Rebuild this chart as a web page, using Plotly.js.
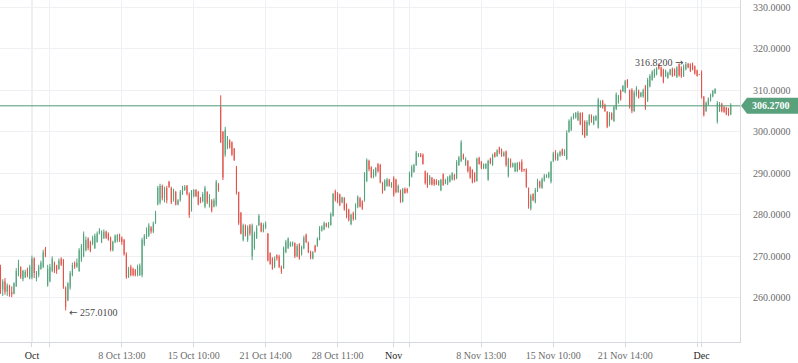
<!DOCTYPE html>
<html>
<head>
<meta charset="utf-8">
<script src="https://cdn.plot.ly/plotly-3.0.1.min.js"></script>
<style>html,body{margin:0;padding:0;background:#fff;}#chart{width:798px;height:363px;}</style>
</head>
<body>
<div id="chart"></div>
<script>
// ---- data (hourly bars, index-based x axis) ----
const openV = [267.5,262,264,261.5,263,261.5,261,262.8,265.5,267.5,264.5,265,267,264.8,265,269.5,264.5,265.5,267,267.5,
272,263,264,266.5,268.5,267.8,267,269.5,269.2,262.5,259.5,262.5,265.5,268.5,267.5,266.5,269,270,271.5,274.3,
273.5,273,272,273.5,275.5,273.5,274.5,276,275.5,274.5,271.5,273.5,273.8,275.3,274.5,274,270.5,265,267.5,267,
266.8,265.5,265.5,265.5,273,274.5,275,277,276,278,282.5,283,287,284,286.5,288,286.5,283.5,285.5,282.5,
283.5,285,286,287,285,281,284.5,286,285.5,284,283.3,282,285.5,282,283.5,282,282.5,287.5,306,300,
294.5,296,298,297.5,296,291.5,285.5,280.5,274,277.5,274,277.5,270,272,274.5,277.5,278,276,277,275.5,
270.8,269.6,267.5,270.3,270,267.5,267.2,271,272,272.5,272.6,273.2,270,273,270.5,272,275.2,273.3,271.2,269.5,
272.6,272.6,274,276.2,276.5,278,277,277.6,279.8,285.8,285.3,285,283,284,282.5,281.3,277.8,280.5,279,282,
284,283.3,283.5,288.2,293,291.5,289,289.5,292.2,292,287.8,286,287,288.5,286.7,289,288.5,285.5,286,283.2,
286.3,286.2,287,289.2,290.3,292,294.2,294.6,294.5,290.5,290,287.5,289,288.5,288.3,287.2,286,289.8,287.5,287.5,
288,288.5,289.7,288.8,292,293,294.5,292,293,291.5,290.8,290,288.2,293.7,292.8,291.2,291.2,288.5,293.6,292,
295,294.2,296.3,295.8,294.2,295.3,289.3,293.4,291.6,290.5,290.5,292.6,292.8,291,291,286.5,281.5,285,283,285.8,
288,286.5,288.3,289,289,288,293,295.3,293.2,294.3,295.8,294.3,293.5,300,300.5,303.2,303.4,302.8,304.5,304.5,
302.5,299.2,301.8,304,301.8,302.8,301,306,307.5,306.5,304.8,301.5,304.5,302.6,305.5,307,310,309.8,309.5,312.5,
310,310.2,305,308.8,309.8,308.5,308.5,311,307.5,311,312.5,313.2,313.8,316.2,315.5,315,313.4,313,313.8,315.2,
315,313.2,316.3,315.5,313.5,315,316.4,316.3,316.5,315.8,314.8,313.8,314.5,308.5,305,306.5,307.5,308.5,309.3,302.5,
305,306.8,306,305.8,305.5,304.2];
const highV = [268,264.5,264.8,263.5,263.2,262.8,263.8,267.2,269.2,267.6,266.8,266.8,267.3,268,270.2,269.8,266.5,268,269,271.6,
272.3,268,268.2,270,268.8,268,269.5,269.8,269.4,262.8,263.8,266.5,268.5,268.8,269.5,272,273,276,274.8,274.6,
273.8,275,275.5,276,276.8,276.3,276.5,276.2,275.8,274.8,273.8,275.3,275.4,275.5,274.8,274.2,271,267.5,268,267.3,
267,268,268.3,274.5,275.4,277,278,277.3,278.4,281,287,287.5,287.3,286.8,287,288.2,286.8,286.3,285.8,283.8,
286,287,287.2,287.2,285.4,286,286.2,286.2,285.8,284.3,285.5,287,285.7,285,283.8,284,288.4,287.7,308.8,300.2,
301.2,299,298.2,297.7,296.1,291.8,285.6,280.7,277.9,277.7,277.5,277.8,277.9,276,277.5,280.2,278.2,278,278.4,275.6,
271,269.8,270,270.5,270.4,267.8,272.4,274,274.6,273.6,273.6,273.4,273,273.2,272.6,275,275.5,273.6,271.4,271.3,
272.8,274.6,277.3,277.5,278.4,278.1,278.3,280.6,285.3,286.1,285.5,285.1,284.4,284.3,282.8,281.5,280.3,280.8,282.8,284.7,
284.3,283.5,290.3,293.6,293.3,291.7,291,291.5,292.5,292.3,288,288.6,288.9,288.7,287.9,289.3,288.7,287.3,286.1,286.5,
286.6,286.5,290.4,292,292.3,295.4,294.9,294.9,294.8,290.7,290.2,289.6,289.1,288.7,288.6,288.4,288.7,290,288.7,289.3,
289.7,290.3,289.9,293.2,294.2,298,294.8,293.9,293.2,291.7,291,290.3,293.8,294,293,292.4,292.4,293.3,293.8,294.7,
295.1,295.8,296.4,296,295.3,295.5,293.8,293.6,292.6,292.6,292.7,292.8,293.4,291.1,291.2,286.6,285,285.2,286.5,288.7,
288.3,289,289.9,289.8,290.4,293,295.2,295.6,295,295.5,296,295.8,300.4,303,303.7,304.5,304.8,305,304.7,304.7,
302.8,302.8,304.3,304.2,303.9,304,308.2,307.6,307.7,306.8,305,304.8,304.7,306.3,309.5,308.9,310.2,311.3,312.5,312.7,
310.2,310.5,310,311,310.2,309.6,310.4,311.3,313,313.9,314.8,315.2,315.6,316.5,315.7,315.2,315,314.5,315.2,315.5,
315.3,315.8,316.5,315.8,316.2,316.82,316.6,316.5,316.7,316,315,313.9,314.8,308.6,307.3,308.3,309.2,310.1,310.5,307.4,
307.2,307,306.2,306,305.8,306.9];
const lowV = [261,260.5,260.8,260.5,260.3,260.2,260.9,262.7,265.2,264.6,264,264.8,265,264.5,264.5,264.8,264,265,266.8,267.2,
269.8,262.7,263.8,266.2,266,265.8,266.8,267.7,262.2,257.01,259.2,262,265.2,267,267.3,266.3,268.7,269.8,271.2,271.5,
271,272.7,271.8,273.3,275.3,273.2,274.2,274.2,273.8,271.2,271.2,273.2,273.4,273.5,272.8,270.2,264.6,264.8,265.2,265.2,
265.2,265.2,265.3,265,272.5,274.2,274.7,275.5,275.6,277.8,282.3,282.5,283.5,283,282.8,286.5,282.6,283.2,282.3,282.3,
283.2,284.8,285.8,284.7,279.3,280.8,284.2,284.3,282.3,282.8,283,281.6,282.6,281.8,280.6,281.8,282,285.6,297.3,288.4,
294,295.8,296,294.2,293,284.9,277.6,275.3,273.6,274.8,273.5,275,269.1,271.6,274.2,277.3,275.8,275.8,276.6,268.8,
268,266.8,267.2,269,267.2,265.8,267,270.8,271.8,272.3,272.4,269.6,269.8,269.2,270.2,271.7,273.2,270.8,269.3,269.3,
270.9,272.3,273.9,276,276.3,277,276.8,277.4,279.6,283.2,282.8,282.1,282.8,281,279.2,278.4,277.5,278.6,278.8,281.6,
281.8,281.2,283.2,287.9,290.5,288.8,288.8,289.2,290.2,287.6,285.1,285.8,286.8,286.8,286.5,284.4,285.2,285.3,282.9,283,
285.1,285.2,286.8,289,290.2,291.8,293.9,293.9,292.1,287.3,286.5,287.2,287.1,287,287.2,287,285.7,287,287.4,287.2,
287.8,288.3,288.3,288.6,291.8,292.7,293.3,291.8,290.2,288.7,287.6,287.8,288,292.1,291,291,291,288.2,292.2,291.8,
293.8,294,294.6,294,294,291.6,289,291.4,291.4,290.3,290.3,290.8,290.3,290.4,286.5,281.5,281.1,283.3,282.8,285.5,
286.4,286.3,288,288.9,288.8,287.6,292.7,293.1,293,294,294.2,294.2,293.2,299.8,300.2,303,303.2,302.6,301.6,299.2,
298.5,299,301.5,302.2,301.6,302.6,300.8,305.8,305.6,304.8,300.9,301.3,302.8,302.4,305.2,306.8,307.5,309.6,309.3,310.6,
305.6,304.5,304.8,308.5,308,308.3,308.2,305.3,307.2,310.7,312.3,313,313.6,315,313.2,311.7,313.2,312.8,313.6,313.2,
313.4,313,313.3,313,313.2,314.8,315.3,314.4,314.8,313.8,313.3,313.7,308,303.7,304.8,306.3,307.3,308.3,309.1,302,
304.8,304.7,304.6,304,303.8,304];
const closeV = [262,264,261.5,263,261,260.8,263.5,266.5,268.5,265,266.5,266.3,265.5,267.5,269.5,266,266,267.5,268.5,271,
270,267,267.5,269.5,266.5,266.5,269,268,262.5,257.8,263.5,266,268,267.5,268.5,271.5,272.5,275.5,274,272,
271.3,274.5,275,275.5,276.3,275.8,276,274.5,274,271.5,273.5,275,275.2,274,273.5,270.5,265,267,265.5,265.5,
265.5,267.5,267.8,274,275,276.5,277.5,276,278,280.5,286.5,287,284,286.5,283.5,286.8,283,286,282.5,283.5,
285.5,286.5,286.8,285,280,285.5,286,284.5,282.5,283,285,286.5,283,284.5,281,283.5,288,286,297.5,289,
300.5,298.5,296.2,294.5,293.2,285.2,278,275.5,277.5,275,277,275.5,277.5,275.5,277,279.8,276,277.6,278,269,
268.2,267,269.5,269.5,267.5,266.3,272,273.5,274.3,273.3,273.4,270,272.5,269.5,272.3,274.5,273.5,271,269.5,271,
271.2,274.2,277,277.2,278,277.2,278,280.2,285,283.6,283,282.4,284.2,281.3,279.5,278.8,280,279,282.5,284.3,
282,281.5,290,293.3,291,289,290.5,291.3,290.5,287.8,285.5,288.3,288.5,287,287.7,284.8,285.5,287,283.2,286.2,
285.3,285.6,290,291.5,292,295,294.7,294,292.3,287.6,286.8,289.3,287.3,287.3,287.4,288.2,288.4,287.2,288.5,289,
289.4,290,288.5,292.8,293.8,297.5,293.5,293.5,290.5,289,287.8,288,293.5,292.3,291.3,292.2,292.3,293,292.5,294.4,
294,295.5,295,294.2,295,292,293.5,291.6,292.4,292.4,292.5,291,290.5,290.8,286.8,282,284.5,283.6,286,288.2,
286.8,288.6,289.5,289.6,290.2,292.7,294.8,293.4,294.6,295.2,294.5,295.5,299.8,302.6,303.3,304.2,304.6,304.6,301.8,299.5,
298.8,302.4,304,302.4,303.6,303.8,307.8,307.2,305.8,305,301.2,304.4,303,306,309,308.6,307.8,311,312.2,311,
306,305,309.5,310.6,308.2,309.4,310,305.6,312.5,313.5,314.5,315,315.3,315.2,313.5,312,314.8,314.2,315,313.4,
313.6,315.5,313.6,313.3,315.8,316.3,315.5,314.6,315,314,313.5,313.7,308.3,304,307,308,309,309.8,310.3,307,
306.8,305,304.8,304.2,304,306.27];

const tickLabels = ["Oct","8 Oct 13:00","15 Oct 10:00","21 Oct 14:00","28 Oct 11:00","Nov","8 Nov 13:00","15 Nov 10:00","21 Nov 14:00","Dec"];
const tickBars   = [14, 54, 86, 118, 150, 175, 214, 246, 278, 312];
const monthBars  = [14, 175, 312];
const extraGridBars = [22, 182, 310];
const yTicks = [260, 270, 280, 290, 300, 310, 320, 330];
const lastPrice = 306.27;
const maxPrice = 316.82, maxBar = 305;
const minPrice = 257.01, minBar = 29;

// ---- build ----
const UP = '#53a27b', DN = '#e2534a';
const idx = openV.map((_, i) => i);

const tv = [], tt = [];
tickBars.forEach((b, k) => {
  tv.push(b);
  const lab = tickLabels[k];
  tt.push(monthBars.includes(b) ? '<span style="color:#1e1e1e">' + lab + '</span>' : lab);
});
extraGridBars.forEach(b => { tv.push(b); tt.push(''); });

const trace = {
  type: 'candlestick', x: idx, open: openV, high: highV, low: lowV, close: closeV,
  increasing: {line: {color: UP, width: 1}, fillcolor: UP},
  decreasing: {line: {color: DN, width: 1}, fillcolor: DN},
  whiskerwidth: 0, hoverinfo: 'skip', showlegend: false
};

const font = {family: 'Liberation Serif, Times New Roman, serif', size: 10, color: '#6b6b6b'};
const shapes = monthBars.map(b => ({
  type: 'line', xref: 'x', yref: 'paper', x0: b, x1: b, y0: 0, y1: 1,
  line: {color: '#d9dce0', width: 1}, layer: 'below'
}));
shapes.push({type: 'line', xref: 'paper', yref: 'y', x0: 0, x1: 1, y0: lastPrice, y1: lastPrice,
  line: {color: '#4f9a74', width: 1}, layer: 'above'});
shapes.push({type: 'path', xref: 'paper', yref: 'y', xsizemode: 'pixel', ysizemode: 'pixel',
  xanchor: 1, yanchor: lastPrice,
  path: 'M1,0 L7,8 L58,8 L58,-8 L7,-8 Z', fillcolor: '#58a17c', line: {width: 0}, layer: 'above'});

const arrowSpan = s => '<span style="font-family:DejaVu Sans;font-size:10px">' + s + '</span>';

const layout = {
  width: 798, height: 363,
  margin: {l: 0, r: 58, t: 0, b: 21, pad: 0},
  paper_bgcolor: '#ffffff', plot_bgcolor: '#ffffff',
  font: font, showlegend: false, boxgap: 0.92,
  xaxis: {
    type: 'linear', range: [-0.22, 329.1], tickmode: 'array', tickvals: tv, ticktext: tt,
    showgrid: true, gridcolor: '#eef0f3', gridwidth: 1, zeroline: false,
    showline: true, linecolor: '#d6d9dd', linewidth: 1,
    ticks: 'outside', ticklen: 4, tickcolor: '#d6d9dd', tickfont: font,
    rangeslider: {visible: false}, fixedrange: true
  },
  yaxis: {
    side: 'right', range: [249.4, 331.75], tickmode: 'array', tickvals: yTicks,
    tickformat: '.4f', showgrid: true, gridcolor: '#eef0f3', gridwidth: 1, zeroline: false,
    showline: true, linecolor: '#d6d9dd', linewidth: 1, ticks: '', ticklabelstandoff: 10,
    tickfont: font, fixedrange: true
  },
  shapes: shapes,
  annotations: [
    {xref: 'paper', yref: 'y', x: 1, y: lastPrice, xanchor: 'left', yanchor: 'middle', xshift: 10,
      text: '<b>' + lastPrice.toFixed(4) + '</b>', showarrow: false,
      font: {family: 'Liberation Serif, serif', size: 10, color: '#ffffff'}},
    {xref: 'x', yref: 'y', x: maxBar, y: maxPrice, xanchor: 'right', yanchor: 'middle', xshift: -1, yshift: 0,
      text: maxPrice.toFixed(4) + ' ' + arrowSpan('→'), showarrow: false,
      font: {family: 'Liberation Serif, serif', size: 10, color: '#4a4a4a'}},
    {xref: 'x', yref: 'y', x: minBar, y: minPrice, xanchor: 'left', yanchor: 'middle', xshift: 1, yshift: -2,
      text: arrowSpan('←') + ' ' + minPrice.toFixed(4), showarrow: false,
      font: {family: 'Liberation Serif, serif', size: 10, color: '#4a4a4a'}}
  ]
};

Plotly.newPlot('chart', [trace], layout, {staticPlot: true, displayModeBar: false});
</script>
</body>
</html>
